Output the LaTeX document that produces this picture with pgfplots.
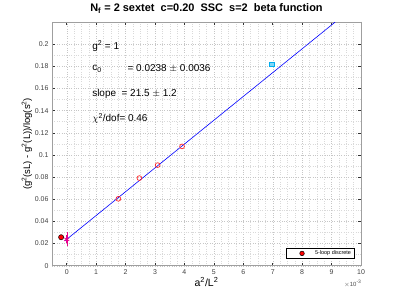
\documentclass[border=0pt]{standalone}
\usepackage{pgfplots}
\pgfplotsset{compat=1.18}
\usepackage{fontspec}
\setmainfont{Liberation Sans}
\begin{document}
\begin{tikzpicture}
\begin{axis}[
  scale only axis, width=309bp, height=243.7bp,
  xmin=-0.5, xmax=10, ymin=0, ymax=0.22,
  xtick={0,1,...,10}, ytick={0,0.02,...,0.2},
  minor x tick num=3, minor y tick num=1,
  tick align=inside, tick pos=both,
  major tick length=3bp, minor tick length=0pt,
  grid=both,
  major grid style={gray!45, dotted, line width=0.4pt},
  minor grid style={gray!30, dotted, line width=0.4pt},
  axis line style={gray!75, line width=0.8pt},
  tick style={gray!40!black, line width=0.5pt},
  /pgf/number format/assume math mode=true,
  ticklabel style={font=\fontsize{7}{8}\selectfont, text=black!75},
  y tick label style={/pgf/number format/fixed, /pgf/number format/precision=2},
  title={\bfseries N\textsubscript{f} = 2 sextet\ \ c=0.20\ \ SSC\ \ s=2\ \ beta function},
  title style={font=\fontsize{11}{12}\selectfont, yshift=-1bp},
  xlabel={a\textsuperscript{2}/L\textsuperscript{2}},
  xlabel style={font=\fontsize{10.5}{12}\selectfont, yshift=4bp},
  ylabel={(g\textsuperscript{2}(sL) - g\textsuperscript{2}(L))/log(s\textsuperscript{2})},
  ylabel style={font=\fontsize{9.5}{11}\selectfont, yshift=-4bp},
  legend style={at={(0.978,0.028)}, anchor=south east, font=\fontsize{5.5}{6}\selectfont,
     draw=black, line width=0.5pt, inner xsep=1pt, inner ysep=0.5pt, row sep=-1pt},
  legend cell align=left,
  clip=true,
]
\addplot[blue, line width=0.6pt, forget plot] coordinates {(-0.05,0.022725) (9.12,0.21988)};
\addplot[only marks, mark=*, mark size=2.6bp, mark options={fill=red, draw=black, line width=0.5pt},
  legend image code/.code={\path[draw=none] (0,0) -- (26bp,0); \draw[only marks, mark=*, mark size=2.3bp, mark options={fill=red, draw=black, line width=0.5pt}] plot coordinates {(15bp,0)};}]
  coordinates {(-0.19,0.0257)};
\addlegendentry{5-loop discrete}
\addplot[only marks, mark=o, mark size=2.4bp, red!85, line width=0.7pt, forget plot]
  coordinates {(1.755,0.0604) (2.47,0.0791) (3.09,0.0908) (3.92,0.1077)};
\addplot[only marks, mark=square*, mark size=2.2bp, mark options={fill=cyan!50, draw=cyan, line width=0.6pt}, forget plot]
  coordinates {(6.97,0.1816)};
\addplot[only marks, mark=asterisk, mark size=3bp, magenta, line width=0.7pt, forget plot,
  error bars/.cd, y dir=both, y explicit, error bar style={magenta, line width=0.6pt}, error mark options={magenta}]
  coordinates {(0,0.0238) +- (0,0.0036)};
\node[anchor=west, font=\fontsize{10}{12}\selectfont] at (axis cs:0.75,0.198) {g\textsuperscript{2} = 1};
\node[anchor=west, font=\fontsize{10}{12}\selectfont] at (axis cs:0.75,0.1775) {c\textsubscript{0}};
\node[anchor=west, font=\fontsize{10}{12}\selectfont] at (axis cs:1.95,0.178) {= 0.0238 $\pm$ 0.0036};
\node[anchor=west, font=\fontsize{10}{12}\selectfont] at (axis cs:0.75,0.1555) {slope\ \ = 21.5 $\pm$ 1.2};
\node[anchor=west, font=\fontsize{10}{12}\selectfont] at (axis cs:0.75,0.1328) {$\chi$\textsuperscript{2}/dof= 0.46};
\end{axis}
\node[anchor=north east, font=\fontsize{6}{7}\selectfont, text=black!70] at ([xshift=4bp,yshift=-11bp]current axis.south east) {$\times$10\textsuperscript{-3}};
\path ([xshift=-52bp,yshift=-33.5bp]current axis.south west) rectangle ([xshift=38bp,yshift=22bp]current axis.north east);
\end{tikzpicture}
\end{document}
